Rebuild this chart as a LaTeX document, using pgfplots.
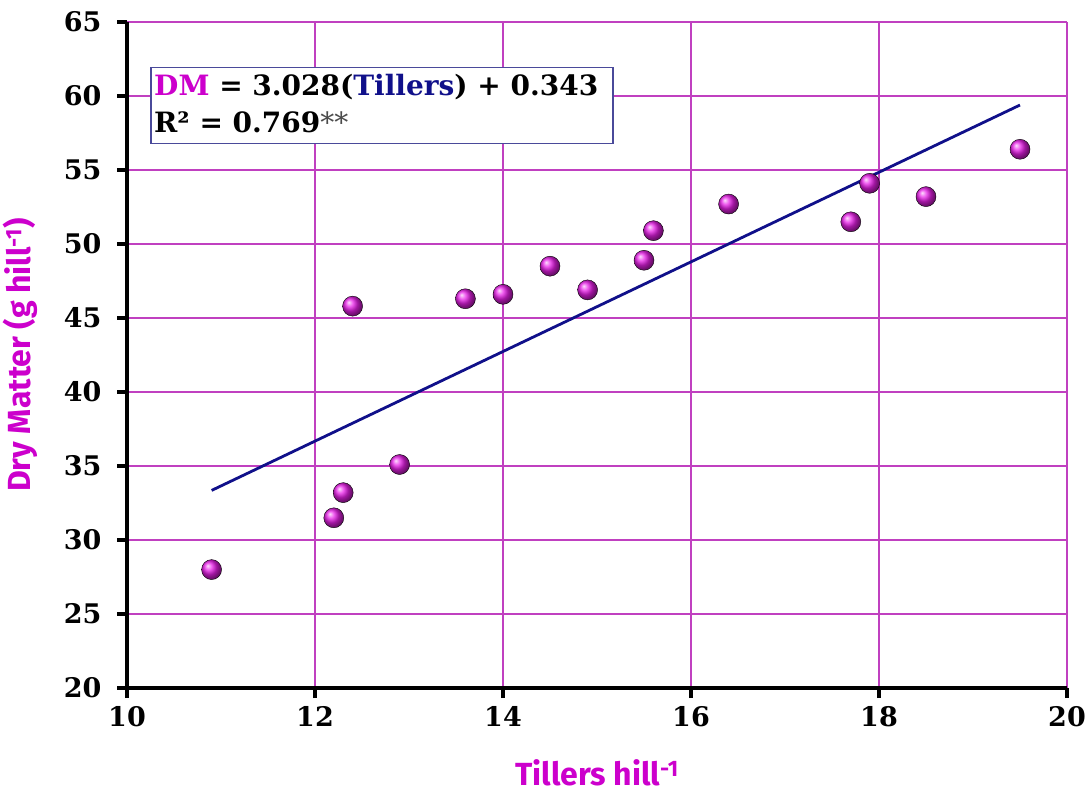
\documentclass[border=0pt]{standalone}
\usepackage{fontspec}
\setmainfont{DejaVu Serif}
\newfontfamily\labfont{Fira Sans}
\usepackage{pgfplots}
\pgfplotsset{compat=1.18}
\definecolor{gridc}{HTML}{C040C0}
\definecolor{magc}{HTML}{CC00CC}
\definecolor{ballc}{HTML}{E820E8}
\definecolor{navyc}{HTML}{10108A}
\definecolor{boxc}{HTML}{4A4A9A}
\begin{document}
\begin{tikzpicture}
\begin{axis}[
  scale only axis, width=940pt, height=666pt,
  xmin=10, xmax=20, ymin=20, ymax=65,
  xtick={10,12,...,20}, ytick={20,25,...,65},
  axis x line*=bottom, axis y line*=left,
  axis line style={line width=3.5pt, black},
  grid=major, major grid style={gridc, line width=1.3pt},
  tick style={black, line width=3.5pt},
  major tick length=10pt, tick align=outside,
  /pgf/number format/assume math mode=true,
  tick label style={font=\fontsize{27}{30}\selectfont\bfseries},
  xticklabel style={yshift=-5pt},
  yticklabel style={xshift=-12pt},
  xlabel={\labfont\bfseries\color{magc}Tillers hill\textsuperscript{-1}},
  ylabel={\labfont\bfseries\color{magc}Dry Matter (g hill\textsuperscript{-1})},
  label style={font=\fontsize{32}{36}\selectfont},
  xlabel style={at={(axis description cs:0.5,0)}, anchor=north, yshift=-68pt},
  ylabel style={at={(axis description cs:0,0.5)}, anchor=south, yshift=86pt},
  clip=false,
]
\addplot[navyc, line width=2.8pt] coordinates {(10.9,33.35) (19.5,59.39)};
\addplot[only marks, mark=ball, mark size=10pt, mark options={ball color=ballc, draw=none}] coordinates {
(10.9,28.0) (12.2,31.5) (12.3,33.2) (12.4,45.8) (12.9,35.1) (13.6,46.3)
(14.0,46.6) (14.5,48.5) (14.9,46.9) (15.5,48.9) (15.6,50.9) (16.4,52.7)
(17.7,51.5) (17.9,54.1) (18.5,53.2) (19.5,56.4)};
\node[anchor=north west, draw=boxc, line width=1.5pt, fill=white, inner sep=0pt,
  minimum width=462pt, minimum height=76pt] (bx) at (axis cs:10.245,61.96) {};
\node[anchor=west, inner sep=0pt, font=\fontsize{28}{32}\selectfont\bfseries]
  at ([xshift=4pt,yshift=-20pt]bx.north west) {\color{magc}DM\color{black}{} = 3.028(\color{navyc}Tillers\color{black}) + 0.343};
\node[anchor=west, inner sep=0pt, font=\fontsize{28}{32}\selectfont\bfseries]
  at ([xshift=4pt,yshift=-55pt]bx.north west) {R² = 0.769{\mdseries\color{black!70}**}};
\coordinate (sw) at (rel axis cs:0,0);
\coordinate (ne) at (rel axis cs:1,1);
\end{axis}
\pgfresetboundingbox
\path ([xshift=-127pt,yshift=-110pt]sw) rectangle ([xshift=22pt,yshift=22pt]ne);
\end{tikzpicture}
\end{document}
